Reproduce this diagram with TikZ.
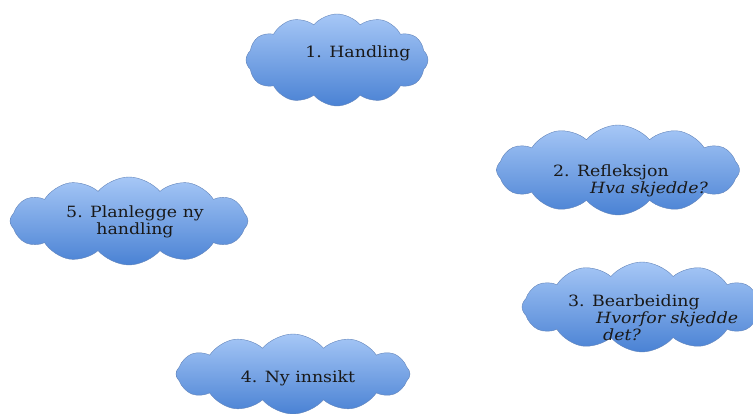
\documentclass[tikz,border=0pt]{standalone}
\usepackage{fontspec}
\setmainfont[FakeStretch=1.12]{DejaVu Serif}
\usetikzlibrary{shapes.symbols}
\definecolor{skytop}{RGB}{166,199,246}
\definecolor{skybottom}{RGB}{74,130,212}
\definecolor{skyrim}{RGB}{98,132,186}
\begin{document}
\begin{tikzpicture}[x=1pt,y=-1pt,
  sky/.style={cloud, cloud puffs=12, cloud puff arc=100, aspect=2.4,
    draw=skyrim, top color=skytop, bottom color=skybottom, inner sep=0pt},
  say/.style={font=\fontsize{15.5}{17}\selectfont, text=black!90, inner sep=0pt}]
\useasboundingbox (0,0) rectangle (753,414);
\node[sky, minimum width=182pt, minimum height=92pt] (act) at (337,60) {};
\node[sky, minimum width=243pt, minimum height=90pt] (reflect) at (618,170) {};
\node[sky, minimum width=238pt, minimum height=88pt] (plan) at (129,221) {};
\node[sky, minimum width=240pt, minimum height=90pt] (process) at (642,307) {};
\node[sky, minimum width=234pt, minimum height=80pt] (insight) at (293,374) {};
\node[say] (actText) at (358,53) {1. Handling};
\node[say, anchor=west, align=left] (reflectText) at (553,181)
  {2. Refleksjon\\\hspace*{37pt}\textit{Hva skjedde?}};
\node[say, align=center] (planText) at (135,222) {5. Planlegge ny\\handling};
\node[say, anchor=west, align=left] (processText) at (568,318)
  {3. Bearbeiding\\\hspace*{28pt}\textit{Hvorfor skjedde}\\\hspace*{35pt}\textit{det?}};
\node[say] (insightText) at (298,378) {4. Ny innsikt};
\end{tikzpicture}
\end{document}
